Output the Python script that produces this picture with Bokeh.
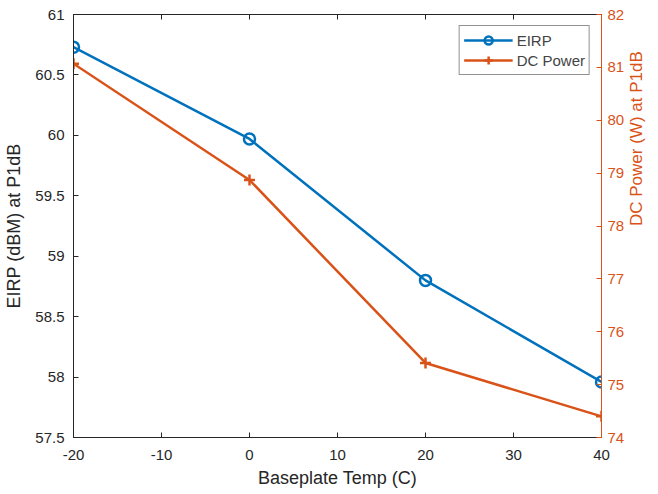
import math
from bokeh.plotting import figure
from bokeh.models import Range1d, LinearAxis, FixedTicker, Legend, LegendItem
from bokeh.embed import file_html
from bokeh.resources import INLINE

temps = [-20, 0, 20, 40]
eirp = [60.73, 59.97, 58.80, 57.96]
dc_power = [81.07, 78.87, 75.41, 74.40]

x_ticks = [-20, -10, 0, 10, 20, 30, 40]
x_tick_labels = ["-20", "-10", "0", "10", "20", "30", "40"]
left_ticks = [57.5, 58, 58.5, 59, 59.5, 60, 60.5, 61]
left_tick_labels = ["57.5", "58", "58.5", "59", "59.5", "60", "60.5", "61"]
right_ticks = [74, 75, 76, 77, 78, 79, 80, 81, 82]

BLUE = "#0072BD"
ORANGE = "#D95319"
AX = "#262626"
FONT = "Liberation Sans"

p = figure(width=658, height=490, output_backend="svg", toolbar_location=None,
           x_range=Range1d(-20, 40), y_range=Range1d(57.5, 61),
           min_border_left=73, min_border_right=50, min_border_top=14, min_border_bottom=52)
p.extra_y_ranges = {"right": Range1d(74, 82)}
p.xgrid.visible = False
p.ygrid.visible = False
p.outline_line_color = AX
p.outline_line_width = 1
p.background_fill_color = "white"
p.border_fill_color = "white"

def style(ax, color):
    ax.axis_line_color = color
    ax.major_tick_line_color = color
    ax.minor_tick_line_color = None
    ax.major_tick_in = 5
    ax.major_tick_out = 0
    ax.major_label_text_color = color
    ax.major_label_text_font = FONT
    ax.major_label_text_font_size = "15px"
    ax.axis_label_text_color = color
    ax.axis_label_text_font = FONT
    ax.axis_label_text_font_size = "18px"
    ax.axis_label_text_font_style = "normal"
    ax.major_label_standoff = 9

xa = p.xaxis[0]
style(xa, AX)
xa.ticker = FixedTicker(ticks=x_ticks)
xa.major_label_overrides = {t: l for t, l in zip(x_ticks, x_tick_labels)}
xa.major_label_standoff = 12
xa.axis_label = "Baseplate Temp (C)"
xa.axis_label_standoff = 5

ya = p.yaxis[0]
style(ya, AX)
ya.ticker = FixedTicker(ticks=left_ticks)
ya.major_label_overrides = {t: l for t, l in zip(left_ticks, left_tick_labels)}
ya.axis_label = "EIRP (dBM) at P1dB"
ya.axis_label_standoff = 8

ra = LinearAxis(y_range_name="right")
style(ra, ORANGE)
ra.ticker = FixedTicker(ticks=right_ticks)
ra.major_label_standoff = 6
ra.axis_label = "DC Power (W) at P1dB"
ra.axis_label_text_font_size = "17px"
ra.axis_label_standoff = 9
ra.axis_label_orientation = math.pi / 2
p.add_layout(ra, "right")

ta = LinearAxis()
style(ta, AX)
ta.ticker = FixedTicker(ticks=x_ticks)
ta.major_label_overrides = {t: "" for t in x_ticks}
ta.major_label_standoff = 0
p.add_layout(ta, "above")

l1 = p.line(temps, eirp, line_color=BLUE, line_width=2.5)
s1 = p.scatter(temps, eirp, marker="circle", size=11, fill_color=None,
               line_color=BLUE, line_width=2.5)
l2 = p.line(temps, dc_power, line_color=ORANGE, line_width=2.5, y_range_name="right")
s2 = p.scatter(temps, dc_power, marker="cross", size=11, line_color=ORANGE,
               line_width=2.5, y_range_name="right")

legend = Legend(items=[LegendItem(label="EIRP", renderers=[l1, s1]),
                       LegendItem(label="DC Power", renderers=[l2, s2])],
                location="top_right")
legend.border_line_color = AX
legend.border_line_width = 1
legend.padding = 4
legend.spacing = 0
legend.margin = 11
legend.glyph_width = 49
legend.glyph_height = 20
legend.label_height = 20
legend.label_standoff = 4
legend.label_text_font = FONT
legend.label_text_font_size = "15px"
legend.background_fill_alpha = 1
p.add_layout(legend)

open("out.html", "w").write(file_html(p, INLINE))
